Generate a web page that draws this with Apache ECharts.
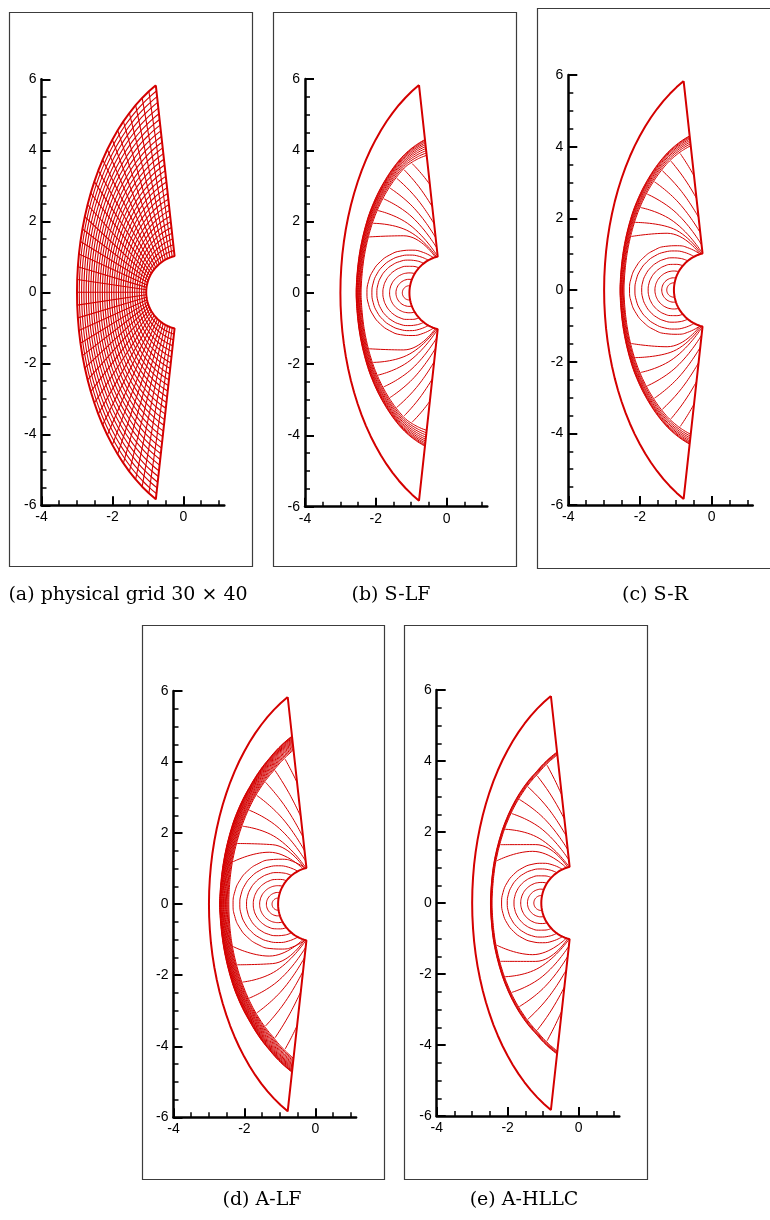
<!DOCTYPE html>
<html><head><meta charset="utf-8">
<script src="https://cdn.jsdelivr.net/npm/echarts@6.0.0/dist/echarts.min.js"></script>
<style>html,body{margin:0;padding:0;background:#fff}#c{width:770px;height:1220px}</style>
</head><body><div id="c"></div>
<script>
// ---------------- data ----------------
const xMajorTicks = [-4, -2, 0];
const xMinorTicks = [-3.5, -3, -2.5, -1.5, -1, -0.5, 0.5, 1];
const xRange = [-4, 1.15];
const yRange = [-6, 6];
const captions = ['(a) physical grid 30 \u00d7 40', '(b) S-LF', '(c) S-R', '(d) A-LF', '(e) A-HLLC'];

// body surface (upper half, stagnation point -> shoulder)
const bodyX = [-1.050,-1.048,-1.041,-1.029,-1.013,-0.993,-0.968,-0.938,-0.905,-0.868,-0.826,-0.782,-0.733,-0.682,-0.627,-0.570,-0.510,-0.449,-0.383,-0.318,-0.251];
const bodyY = [0.000,0.070,0.139,0.208,0.276,0.343,0.408,0.471,0.533,0.592,0.648,0.701,0.752,0.799,0.842,0.882,0.918,0.949,0.978,1.001,1.020];
// outer (inflow) boundary, upper half
const outerX = [-3.000,-2.994,-2.975,-2.945,-2.902,-2.847,-2.780,-2.702,-2.612,-2.511,-2.400,-2.278,-2.146,-2.004,-1.853,-1.693,-1.524,-1.348,-1.164,-0.974,-0.779];
const outerY = [0.000,0.361,0.721,1.079,1.433,1.784,2.128,2.466,2.796,3.118,3.431,3.732,4.022,4.298,4.563,4.814,5.050,5.271,5.475,5.662,5.831];
const gridCellsXi = 30, gridCellsEta = 40;

// shock band edges (grid coordinate xi) at eta = 0, .2, .4, .6, .8, 1
const shockEta = [0, 0.2, 0.4, 0.6, 0.8, 1.0];
const shockOuterB = [0.772, 0.762, 0.748, 0.726, 0.708, 0.682];
const shockInnerB = [0.700, 0.690, 0.676, 0.655, 0.635, 0.590];
const shockOuterC = [0.772, 0.762, 0.748, 0.725, 0.706, 0.682];
const shockInnerC = [0.715, 0.705, 0.690, 0.668, 0.650, 0.625];
const shockOuterD = [0.846, 0.830, 0.812, 0.785, 0.772, 0.771];
const shockInnerD = [0.713, 0.710, 0.700, 0.690, 0.680, 0.690];
const shockOuterE = [0.735, 0.728, 0.712, 0.692, 0.672, 0.672];
const shockInnerE = [0.712, 0.705, 0.690, 0.670, 0.652, 0.655];
const shockLinesB = 10, shockLinesC = 8, shockLinesD = 16, shockLinesE = 5;

// contour loops around the stagnation point: radius
const loopsB = [0.20, 0.38, 0.56, 0.75, 0.92, 1.06, 1.20];
const loopsC = [0.20, 0.34, 0.53, 0.72, 0.90, 1.09, 1.24];
const loopsD = [0.17, 0.33, 0.52, 0.70, 0.89, 1.08, 1.27];
const loopsE = [0.21, 0.39, 0.58, 0.77, 0.96, 1.12];

// contour lines leaving the shock: [eta on shock, end xi, end eta]
const spokesB = [[0.30,0,0.95],[0.38,0,0.975],[0.46,0,1],[0.54,0.05,1],[0.62,0.11,1],[0.70,0.19,1],[0.78,0.29,1],[0.86,0.42,1]];
const spokesC = [[0.28,0,0.95],[0.36,0,0.975],[0.45,0,1],[0.54,0.05,1],[0.63,0.12,1],[0.72,0.21,1],[0.81,0.32,1],[0.90,0.45,1]];
const spokesD = [[0.22,0,0.93],[0.32,0,0.96],[0.42,0,0.99],[0.52,0.04,1],[0.62,0.10,1],[0.72,0.18,1],[0.82,0.30,1],[0.92,0.50,1]];
const spokesE = [[0.22,0,0.93],[0.31,0,0.96],[0.40,0,0.99],[0.50,0.04,1],[0.60,0.10,1],[0.70,0.18,1],[0.80,0.28,1],[0.90,0.42,1]];

// ---------------- layout (pixels) ----------------
const RED = '#d40000';
const layout = [
  {g:[41.5, 79.3, 182.8, 426.0], f:[9, 12, 243, 554], c:[128, 595]},
  {g:[305.0, 79.0, 182.3, 427.7], f:[273, 12, 243, 554], c:[391, 595]},
  {g:[568.3, 75.0, 184.4, 430.0], f:[537, 8, 260, 560], c:[655, 595]},
  {g:[173.5, 691.0, 182.6, 426.3], f:[142, 625, 242, 554], c:[262, 1200]},
  {g:[436.7, 690.0, 182.6, 426.0], f:[404, 625, 243, 554], c:[524, 1200]}
];

// ---------------- geometry helpers ----------------
const N = bodyX.length - 1;
function bnd(ax, ay, eta) {
  const s = Math.abs(eta) * N; let j = Math.floor(s); if (j >= N) j = N - 1; const f = s - j;
  const sg = eta < 0 ? -1 : 1;
  return [ax[j] + (ax[j+1]-ax[j]) * f, sg * (ay[j] + (ay[j+1]-ay[j]) * f)];
}
function meshPt(xi, eta) {
  const b = bnd(bodyX, bodyY, eta), o = bnd(outerX, outerY, eta);
  return [b[0] + xi * (o[0]-b[0]), b[1] + xi * (o[1]-b[1])];
}
function lerpArr(arr, eta) {
  const e = Math.abs(eta);
  for (let k = 0; k < shockEta.length - 1; k++) {
    if (e <= shockEta[k+1]) { const f = (e - shockEta[k]) / (shockEta[k+1]-shockEta[k]); return arr[k] + (arr[k+1]-arr[k]) * f; }
  }
  return arr[arr.length-1];
}
function ls(pi, data, width, smooth) {
  return {type:'line', xAxisIndex: 2*pi, yAxisIndex: pi, data: data, symbol:'none', showSymbol:false,
    smooth: smooth || false, lineStyle:{color:RED, width:width}, silent:true, animation:false, clip:false, z:3};
}

const series = [];
const etaNodes = [];
for (let k = -N; k <= N; k++) etaNodes.push(k / N);

function boundary(pi) {
  const pts = [];
  for (let k = etaNodes.length - 1; k >= 0; k--) pts.push(meshPt(1, etaNodes[k]));
  for (let k = 0; k < etaNodes.length; k++) pts.push(meshPt(0, etaNodes[k]));
  pts.push(meshPt(1, 1));
  series.push(ls(pi, pts, 2, false));
}

// (a) mesh
for (let i = 1; i < gridCellsXi; i++) {
  const xi = i / gridCellsXi, pts = [];
  etaNodes.forEach(e => pts.push(meshPt(xi, e)));
  series.push(ls(0, pts, 1.1, true));
}
for (let k = 1; k < gridCellsEta; k++) {
  const e = -1 + 2 * k / gridCellsEta;
  series.push(ls(0, [meshPt(0, e), meshPt(1, e)], 1.1, false));
}
boundary(0);

function contours(pi, outer, inner, nLines, loops, spokes) {
  for (let m = 0; m < nLines; m++) {
    const t = Math.pow(m / (nLines - 1), 1.4), pts = [];
    etaNodes.forEach(e => { const o = lerpArr(outer, e), n = lerpArr(inner, e); pts.push(meshPt(o - t * (o - n), e)); });
    series.push(ls(pi, pts, 1, true));
  }
  loops.forEach(r => {
    const pe = Math.acos(r / 2.1), pts = [];
    for (let q = 0; q <= 16; q++) { const p = pe + (2*Math.PI - 2*pe) * q / 16; pts.push([-1.05 + r*Math.cos(p), r*Math.sin(p)]); }
    series.push(ls(pi, pts, 1, true));
  });
  spokes.forEach(s => {
    [1, -1].forEach(sg => {
      const x0 = lerpArr(inner, s[0]) - 0.008;
      const A = meshPt(x0, sg * s[0]), E = meshPt(s[1], sg * s[2]);
      const Mm = meshPt((x0 + s[1]) / 2, sg * (s[0] + s[2]) / 2);
      const M = [0.5 * (Mm[0] + (A[0] + E[0]) / 2), 0.5 * (Mm[1] + (A[1] + E[1]) / 2)];
      series.push(ls(pi, [A, M, E], 1, true));
    });
  });
  boundary(pi);
}
contours(1, shockOuterB, shockInnerB, shockLinesB, loopsB, spokesB);
contours(2, shockOuterC, shockInnerC, shockLinesC, loopsC, spokesC);
contours(3, shockOuterD, shockInnerD, shockLinesD, loopsD, spokesD);
contours(4, shockOuterE, shockInnerE, shockLinesE, loopsE, spokesE);

// ---------------- axes ----------------
const grids = [], xAxes = [], yAxes = [], graphics = [];
const labelFont = {color:'#000', fontSize:14, fontFamily:'"Liberation Sans", Arial, sans-serif'};
layout.forEach((L, pi) => {
  grids.push({left:L.g[0], top:L.g[1], width:L.g[2], height:L.g[3], containLabel:false, outerBoundsMode:'none'});
  xAxes.push({type:'value', gridIndex:pi, min:xRange[0], max:xRange[1], interval:2, position:'bottom',
    axisLine:{show:true, onZero:false, lineStyle:{color:'#000', width:2.5}},
    axisTick:{show:true, inside:true, length:9, lineStyle:{color:'#000', width:2}, customValues:xMajorTicks},
    axisLabel:Object.assign({show:true, margin:5, customValues:xMajorTicks}, labelFont),
    splitLine:{show:false}, minorTick:{show:false}});
  xAxes.push({type:'value', gridIndex:pi, min:xRange[0], max:xRange[1], interval:0.5, position:'bottom',
    axisLine:{show:false, onZero:false},
    axisTick:{show:true, inside:true, length:5, lineStyle:{color:'#000', width:1.5}, customValues:xMinorTicks},
    axisLabel:{show:false}, splitLine:{show:false}});
  yAxes.push({type:'value', gridIndex:pi, min:yRange[0], max:yRange[1], interval:2, position:'left',
    axisLine:{show:true, onZero:false, lineStyle:{color:'#000', width:2.5}},
    axisTick:{show:true, inside:true, length:9, lineStyle:{color:'#000', width:2}},
    minorTick:{show:true, splitNumber:4, length:5, lineStyle:{color:'#000', width:1.5}},
    axisLabel:Object.assign({show:true, margin:5}, labelFont),
    splitLine:{show:false}});
  graphics.push({type:'rect', shape:{x:L.f[0]+0.5, y:L.f[1]+0.5, width:L.f[2], height:L.f[3]},
    style:{fill:'none', stroke:'#3c3c3c', lineWidth:1.2}, silent:true, z:1});
  graphics.push({type:'text', x:L.c[0], y:L.c[1],
    style:{text:captions[pi], font:'19px "DejaVu Serif", serif', fill:'#000', align:'center', verticalAlign:'middle'}, silent:true});
});

const chart = echarts.init(document.getElementById('c'), null, {renderer:'canvas'});
chart.setOption({
  animation:false, backgroundColor:'#fff',
  grid:grids, xAxis:xAxes, yAxis:yAxes, series:series, graphic:graphics
});
</script></body></html>
